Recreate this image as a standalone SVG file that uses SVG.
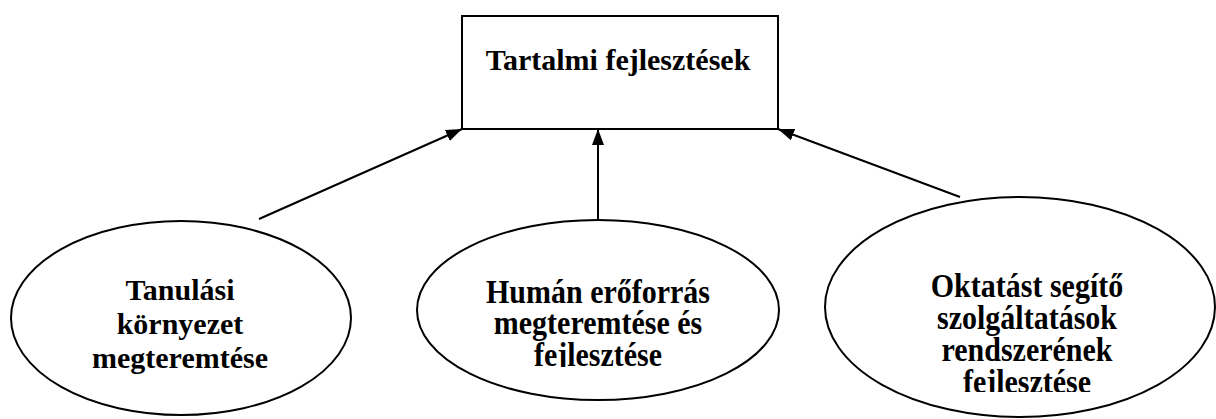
<svg xmlns="http://www.w3.org/2000/svg" width="1216" height="419" viewBox="0 0 1216 419">
<style>
.shape{fill:#fff;stroke:#000;stroke-width:2}
.lbl{font-family:"Liberation Serif","Times New Roman",serif;font-weight:bold;font-size:30px;fill:#000;text-anchor:middle}
.conn{stroke:#000;stroke-width:2;fill:none}
</style>
<defs>
<marker id="arr" viewBox="0 0 16 12" refX="16" refY="6" markerWidth="16" markerHeight="12" markerUnits="userSpaceOnUse" orient="auto">
<path d="M0,0 L16,6 L0,12 Z" fill="#000"/>
</marker>
<clipPath id="clipMid"><rect x="400" y="200" width="400" height="167"/></clipPath>
<clipPath id="clipRight"><rect x="800" y="180" width="416" height="212"/></clipPath>
</defs>
<rect width="1216" height="419" fill="#fff"/>
<g id="top">
<rect class="shape" x="462" y="16" width="316" height="113"/>
<text class="lbl" x="618" y="70">Tartalmi fejlesztések</text>
</g>
<g id="left">
<ellipse class="shape" cx="181" cy="318" rx="170" ry="97"/>
<text class="lbl" x="180" y="300">Tanulási</text>
<text class="lbl" x="180" y="334">környezet</text>
<text class="lbl" x="180" y="368">megteremtése</text>
</g>
<g id="middle">
<ellipse class="shape" cx="598" cy="310" rx="181" ry="90"/>
<g clip-path="url(#clipMid)">
<text class="lbl" transform="translate(598,303) scale(1,1.12)">Humán erőforrás</text>
<text class="lbl" transform="translate(598,334) scale(1,1.12)">megteremtése és</text>
<text class="lbl" transform="translate(598,366) scale(1,1.12)">fejlesztése</text>
</g>
</g>
<g id="right">
<ellipse class="shape" cx="1020" cy="307" rx="195" ry="110"/>
<g clip-path="url(#clipRight)">
<text class="lbl" transform="translate(1027,297) scale(1,1.12)">Oktatást segítő</text>
<text class="lbl" transform="translate(1027,329) scale(1,1.12)">szolgáltatások</text>
<text class="lbl" transform="translate(1027,361) scale(1,1.12)">rendszerének</text>
<text class="lbl" transform="translate(1027,393) scale(1,1.12)">fejlesztése</text>
</g>
</g>
<g id="connectors">
<line class="conn" x1="259" y1="219" x2="462" y2="129" marker-end="url(#arr)"/>
<line class="conn" x1="598" y1="219" x2="598" y2="129" marker-end="url(#arr)"/>
<line class="conn" x1="960" y1="197" x2="778" y2="129" marker-end="url(#arr)"/>
</g>
</svg>
